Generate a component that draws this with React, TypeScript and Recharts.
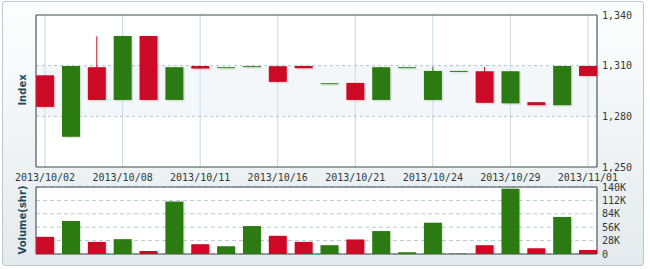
import React from 'react';
import { ComposedChart, Bar, XAxis, YAxis, CartesianGrid, ReferenceArea, Cell } from 'recharts';

const dates = [
  '2013/10/02', '2013/10/04', '2013/10/07', '2013/10/08', '2013/10/09', '2013/10/10',
  '2013/10/11', '2013/10/14', '2013/10/15', '2013/10/16', '2013/10/17', '2013/10/18',
  '2013/10/21', '2013/10/22', '2013/10/23', '2013/10/24', '2013/10/25', '2013/10/28',
  '2013/10/29', '2013/10/30', '2013/10/31', '2013/11/01',
];
const opens = [
  1285.6, 1309.8, 1289.7, 1327.6, 1289.7, 1309.1, 1308.3, 1309.1, 1309.7, 1300.4, 1308.5,
  1299.6, 1289.7, 1309.1, 1309.1, 1306.9, 1306.9, 1288.0, 1306.7, 1286.6, 1309.8, 1303.9,
];
const closes = [
  1304.3, 1267.9, 1309.1, 1289.7, 1327.6, 1289.7, 1309.8, 1308.6, 1309.2, 1309.7, 1309.8,
  1299.1, 1299.8, 1289.7, 1308.6, 1289.7, 1306.4, 1306.7, 1287.7, 1288.4, 1286.6, 1309.8,
];
// only a few candles have visible wicks
const highs = [
  1304.3, 1309.8, 1327.4, 1327.6, 1327.6, 1309.1, 1309.8, 1309.1, 1309.7, 1309.7, 1309.8,
  1299.6, 1299.8, 1309.1, 1309.1, 1309.3, 1306.9, 1309.3, 1306.7, 1288.4, 1309.8, 1309.8,
];
const lows = [
  1285.6, 1267.9, 1289.7, 1289.7, 1289.7, 1289.7, 1308.3, 1308.6, 1309.2, 1300.4, 1308.5,
  1299.1, 1289.7, 1289.7, 1308.6, 1289.7, 1306.4, 1288.0, 1287.7, 1286.6, 1286.6, 1303.9,
];
const volumes = [
  35900, 69000, 25300, 31000, 6300, 109700, 20500, 16200, 58400, 38000, 25300,
  18400, 30400, 47900, 3600, 65400, 800, 18400, 136500, 12000, 77400, 8400,
];
const priceTicks = [1250, 1280, 1310, 1340];
const volumeTicks = [0, 28000, 56000, 84000, 112000, 140000];
const dateTicks = [0, 3, 6, 9, 12, 15, 18, 21];

const RED = '#cc0a26';
const GREEN = '#2b7a12';

const data = dates.map((date, i) => ({
  i,
  date,
  open: opens[i],
  close: closes[i],
  high: highs[i],
  low: lows[i],
  volume: volumes[i],
  color: closes[i] >= opens[i] ? RED : GREEN,
}));

const xDomain: [number, number] = [-0.35, 21.35];
const tickFont = { fontSize: 10, fill: '#2c3a40', fontFamily: 'DejaVu Sans Mono' };

const Candle = (props: any) => {
  const { x, y, width, height, payload } = props;
  const top = Math.min(y, y + height);
  const h = Math.abs(height);
  const ppu = h / (payload.high - payload.low);
  const cx = x + width / 2;
  const bodyTop = top + (payload.high - Math.max(payload.open, payload.close)) * ppu;
  const bodyH = Math.max(Math.abs(payload.open - payload.close) * ppu, 1);
  return (
    <g>
      <rect x={x + 1.5} y={bodyTop + 1.5} width={width} height={bodyH} fill={payload.color} opacity={0.15} />
      <line x1={cx} y1={top} x2={cx} y2={top + h} stroke={payload.color} strokeWidth={1} />
      <rect x={x} y={bodyTop} width={width} height={bodyH} fill={payload.color} />
    </g>
  );
};

const VolBar = (props: any) => {
  const { x, y, width, height, payload } = props;
  return (
    <g>
      <rect x={x + 1.5} y={y + 1.5} width={width} height={Math.max(height - 1.5, 0)} fill={payload.color} opacity={0.15} />
      <rect x={x} y={y} width={width} height={height} fill={payload.color} />
    </g>
  );
};

const axisTitle: React.CSSProperties = {
  position: 'absolute',
  left: 22,
  transform: 'translate(-50%, -50%) rotate(-90deg)',
  fontFamily: 'DejaVu Sans',
  fontWeight: 'bold',
  fontSize: 10,
  color: '#1d4d5c',
  whiteSpace: 'nowrap',
};

export default function App() {
  return (
    <div style={{ position: 'absolute', left: 0, top: 0, width: 650, height: 269 }}>
      <div
        style={{
          position: 'absolute', left: 2, top: 1, width: 640, height: 263,
          border: '1px solid #bcc6cb', borderRadius: 3,
          background: 'linear-gradient(#fdfefe, #e4eaed)',
        }}
      />
      <div style={{ position: 'absolute', left: 0, top: 0 }}>
        <ComposedChart width={650} height={190} data={data} margin={{ top: 15, right: 0, left: 36, bottom: 0 }}>
          <CartesianGrid fill="#ffffff" horizontal={false} stroke="#c9d7de" />
          <ReferenceArea x1={xDomain[0]} x2={xDomain[1]} y1={1280} y2={1310} fill="#dfe8ee" fillOpacity={0.35} stroke="none" />
          <CartesianGrid vertical={false} stroke="#a9c0cc" strokeDasharray="3 3" horizontalValues={[1280, 1310]} />
          <XAxis
            type="number"
            dataKey="i"
            domain={xDomain}
            ticks={dateTicks}
            tickFormatter={(v: number) => dates[v]}
            axisLine={false}
            tickLine={false}
            tickSize={0}
            tickMargin={7}
            height={23}
            tick={tickFont}
            interval={0}
          />
          <YAxis
            orientation="right"
            domain={[1250, 1340]}
            ticks={priceTicks}
            tickFormatter={(v: number) => v.toLocaleString('en-US')}
            axisLine={false}
            tickLine={false}
            tickSize={0}
            tickMargin={5}
            width={53}
            tick={tickFont}
            interval={0}
          />
          <Bar dataKey={(d: any) => [d.low, d.high]} barSize={18} shape={<Candle />} isAnimationActive={false} />
          <ReferenceArea x1={xDomain[0]} x2={xDomain[1]} y1={1250} y2={1340} fill="none" stroke="#3d4b4f" strokeWidth={1} />
        </ComposedChart>
      </div>
      <div style={{ position: 'absolute', left: 0, top: 180 }}>
        <ComposedChart width={650} height={89} data={data} margin={{ top: 7, right: 0, left: 36, bottom: 15 }}>
          <CartesianGrid fill="#ffffff" horizontal={false} stroke="#c9d7de" />
          <CartesianGrid vertical={false} stroke="#b5c8d2" strokeDasharray="4 3" />
          <XAxis
            type="number"
            dataKey="i"
            domain={xDomain}
            ticks={dateTicks}
            tick={false}
            axisLine={false}
            tickLine={false}
            height={0}
          />
          <YAxis
            orientation="right"
            domain={[0, 140000]}
            ticks={volumeTicks}
            tickFormatter={(v: number) => (v === 0 ? '0' : `${v / 1000}K`)}
            axisLine={false}
            tickLine={false}
            tickSize={0}
            tickMargin={5}
            width={53}
            tick={tickFont}
            interval={0}
          />
          <Bar dataKey="volume" barSize={18} shape={<VolBar />} isAnimationActive={false}>
            {data.map((d) => (
              <Cell key={d.i} fill={d.color} />
            ))}
          </Bar>
          <ReferenceArea x1={xDomain[0]} x2={xDomain[1]} y1={0} y2={140000} fill="none" stroke="#3d4b4f" strokeWidth={1} />
        </ComposedChart>
      </div>
      <div style={{ ...axisTitle, top: 90 }}>Index</div>
      <div style={{ ...axisTitle, top: 220 }}>Volume(shr)</div>
    </div>
  );
}
